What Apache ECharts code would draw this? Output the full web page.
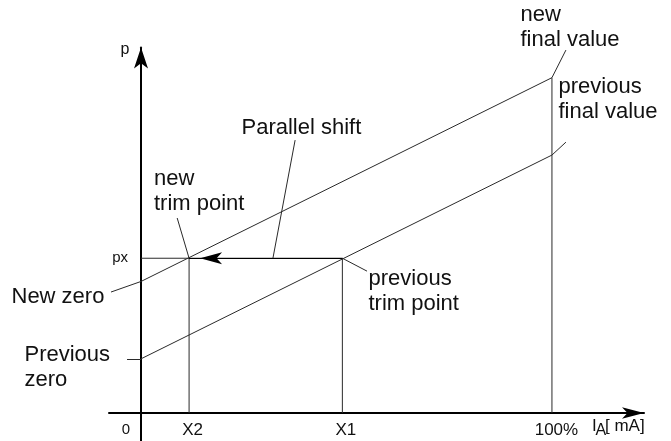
<!DOCTYPE html>
<html><head><meta charset="utf-8">
<script src="https://cdn.jsdelivr.net/npm/echarts@6/dist/echarts.min.js"></script>
<style>html,body{margin:0;padding:0;background:#fff}#c{width:671px;height:441px}</style>
</head><body><div id="c"></div>
<script>
// ---- values (x: output current in % of span, y: pressure p) ----
const curveX = [0, 100];            // 0 % and 100 % of the current span
const previousCurve = [21, 100];    // previous zero, previous final value
const newCurve = [51, 130];         // new zero, new final value
const trimLevel = 60;               // px
const trimPointX = [11.7, 49];      // X2 (new trim point), X1 (previous trim point)
const xTickLabels = ['0', 'X2', 'X1', '100%'];
const xTickValues = [0, 11.7, 49, 100];
const yTickLabels = ['px'];
const yTickValues = [60];

// ---- layout ----
const X_MIN = -7.79, X_MAX = 122.4, Y_MIN = -10.85, Y_MAX = 141.7;
const FONT = "'Liberation Sans', Arial, Helvetica, sans-serif";
const INK = '#111';
const LINE = '#2a2a2a';

// leader lines of the annotations (axis units); the inner end sits on the data
const leaders = [
  [[37.5, 105.8], [32.1, trimLevel]],
  [[8.8, 75.6], [trimPointX[0], trimLevel]],
  [[-7.3, 46.9], [curveX[0], newCurve[0]]],
  [[-3.4, 20.9], [curveX[0], previousCurve[0]]],
  [[trimPointX[1], trimLevel], [55, 55]],
  [[curveX[1], newCurve[1]], [103.4, 140.7]],
  [[curveX[1], previousCurve[1]], [103.4, 105]]
];

// annotation texts: left edge and baseline of first line (px)
const notes = [
  { text: 'Parallel shift', x: 241.5, b: 136 },
  { text: 'new\ntrim point', x: 154, b: 187 },
  { text: 'new\nfinal value', x: 520.5, b: 23 },
  { text: 'previous\nfinal value', x: 558.5, b: 95 },
  { text: 'previous\ntrim point', x: 368.5, b: 287 },
  { text: 'New zero', x: 11.5, b: 305 },
  { text: 'Previous\nzero', x: 24.5, b: 363 }
];
const FS = 22, LH = 25;

const pts = ys => curveX.map((x, i) => [x, ys[i]]);
const thin = { color: LINE, width: 1 };
const lineSeries = (name, data) => ({
  type: 'line', name, data, symbol: 'none', silent: true, animation: false,
  lineStyle: thin, emphasis: { disabled: true }
});

const chart = echarts.init(document.getElementById('c'), null, { renderer: 'canvas' });
chart.setOption({
  animation: false,
  backgroundColor: '#fff',
  grid: { left: 109, right: 27, top: 47.5, bottom: 0, containLabel: false, outerBoundsMode: 'none' },
  xAxis: {
    type: 'value', min: X_MIN, max: X_MAX,
    splitLine: { show: false }, axisTick: { show: false },
    axisLine: { onZero: true, symbol: ['none', 'arrow'], symbolSize: [8.5, 22],
      lineStyle: { color: '#000', width: 2 } },
    axisLabel: {
      customValues: xTickValues, margin: -20, color: INK, fontFamily: FONT, hideOverlap: false,
      formatter: v => {
        const i = xTickValues.indexOf(v);
        const key = i === 0 ? 'z' : (i === 3 ? 'h' : 't');
        return '{' + key + '|' + xTickLabels[i] + '}';
      },
      rich: {
        z: { fontSize: 15, lineHeight: 18, fontFamily: FONT, color: INK, padding: [0, 30, 0, 0] },
        t: { fontSize: 17, lineHeight: 18, fontFamily: FONT, color: INK, padding: [0, 0, 0, 7] },
        h: { fontSize: 17, lineHeight: 18, fontFamily: FONT, color: INK, padding: [0, 0, 0, 9] }
      }
    }
  },
  yAxis: {
    type: 'value', min: Y_MIN, max: Y_MAX,
    splitLine: { show: false }, axisTick: { show: false },
    axisLine: { onZero: true, symbol: ['none', 'arrow'], symbolSize: [10.5, 21],
      lineStyle: { color: '#000', width: 2 } },
    axisLabel: {
      customValues: yTickValues, margin: -19, color: INK, fontFamily: FONT, fontSize: 15,
      formatter: v => yTickLabels[yTickValues.indexOf(v)]
    }
  },
  series: [
    lineSeries('previous', pts(previousCurve)),
    lineSeries('new', pts(newCurve)),
    Object.assign(lineSeries('trim level', [[curveX[0], trimLevel], [trimPointX[1], trimLevel]]), {
      markLine: {
        silent: true, animation: false,
        symbol: ['none', 'arrow'], symbolSize: [9, 22], symbolOffset: [0, [0, 11]],
        lineStyle: { color: '#000', width: 1, type: 'solid' },
        label: { show: false }, emphasis: { disabled: true },
        data: [[{ coord: [trimPointX[1], trimLevel] }, { coord: [trimPointX[0], trimLevel] }]]
      }
    }),
    lineSeries('X2 drop', [[trimPointX[0], 0], [trimPointX[0], trimLevel]]),
    lineSeries('X1 drop', [[trimPointX[1], 0], [trimPointX[1], trimLevel]]),
    lineSeries('100% drop', [[curveX[1], 0], [curveX[1], newCurve[1]]]),
    {
      type: 'lines', coordinateSystem: 'cartesian2d', silent: true, animation: false,
      lineStyle: { color: LINE, width: 1, opacity: 1, curveness: 0 },
      data: leaders.map(c => ({ coords: c }))
    }
  ],
  graphic: notes.map(n => ({
    type: 'text', x: n.x, y: n.b - 0.3465 * FS - LH / 2, silent: true,
    style: { text: n.text, fontSize: FS, fontFamily: FONT, fill: INK, lineHeight: LH,
      align: 'left', verticalAlign: 'top' }
  })).concat([
    { type: 'text', x: 120.5, y: 55 - 0.3465 * 16, silent: true,
      style: { text: 'p', fontSize: 16, fontFamily: FONT, fill: INK, verticalAlign: 'middle', align: 'left' } },
    { type: 'text', x: 592, y: 432 - 0.3465 * 17, silent: true,
      style: { text: 'I', fontSize: 17, fontFamily: FONT, fill: INK, verticalAlign: 'middle', align: 'left' } },
    { type: 'text', x: 595.5, y: 436 - 0.3465 * 16, silent: true,
      style: { text: 'A', fontSize: 16, fontFamily: FONT, fill: INK, verticalAlign: 'middle', align: 'left' } },
    { type: 'text', x: 605, y: 432 - 0.3465 * 17, silent: true,
      style: { text: '[ mA]', fontSize: 17, fontFamily: FONT, fill: INK, verticalAlign: 'middle', align: 'left' } }
  ])
});
</script></body></html>
